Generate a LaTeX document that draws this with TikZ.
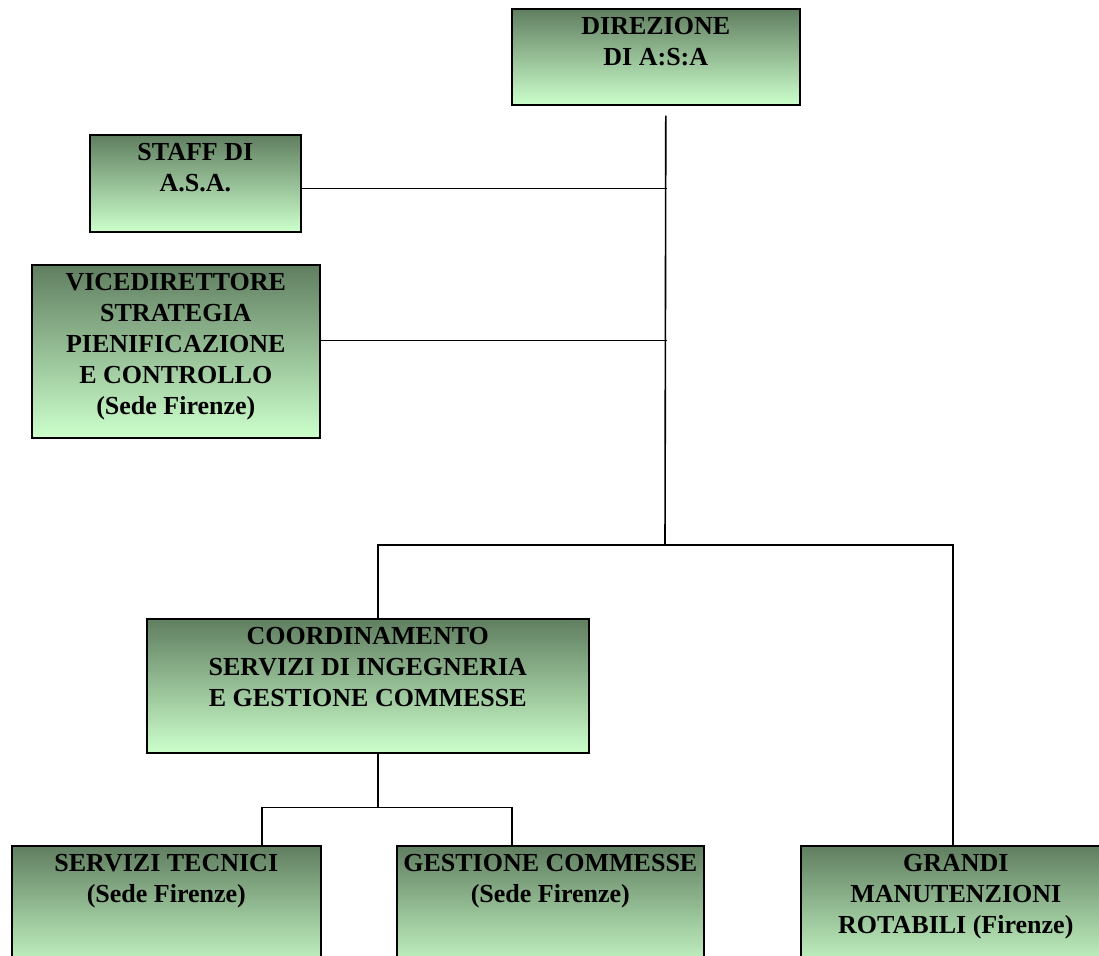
\documentclass[tikz,border=0pt]{standalone}
\usepackage{fontspec}
\setmainfont{Liberation Serif}
\definecolor{boxtop}{RGB}{96,126,96}
\definecolor{boxbottom}{RGB}{204,255,204}
\tikzset{
  orgbox/.style={draw=black, line width=1.6pt, top color=boxtop, bottom color=boxbottom,
    anchor=north west, inner sep=0pt},
  orgtext/.style={anchor=north, align=center, inner sep=0pt,
    font=\bfseries\fontsize{26}{31}\selectfont},
  orgline/.style={line width=1.6pt}
}
\begin{document}
\begin{tikzpicture}[x=1pt, y=-1pt]
            \useasboundingbox (0,0) rectangle (1099,955);
            % boxes (name/x/y/width/height/text)
            \foreach \name/\x/\y/\w/\h/\txt in {
            dir/511/8/288/96/{DIREZIONE\\DI A:S:A},
            staff/89/134/211/97/{STAFF DI\\A.S.A.},
            vice/31/264/288/173/{VICEDIRETTORE\\STRATEGIA\\PIENIFICAZIONE\\E CONTROLLO\\(Sede Firenze)},
            coord/146/618/442/134/{COORDINAMENTO\\SERVIZI DI INGEGNERIA\\E GESTIONE COMMESSE},
            tecnici/11/845/309/130/{SERVIZI TECNICI\\(Sede Firenze)},
            commesse/396/845/307/130/{GESTIONE COMMESSE\\(Sede Firenze)},
            grandi/800/845/310/130/{GRANDI\\MANUTENZIONI\\ROTABILI (Firenze)}}
            {
            \node[orgbox, minimum width=\w pt, minimum height=\h pt] (\name) at (\x,\y) {};
            \node[orgtext] (\name-txt) at ([yshift=-9pt]\name.north) {\txt};
            }
            % main line
            \coordinate (fork) at (665,545);
            \draw[orgline] ([xshift=10pt, yshift=-10pt]dir.south) -- (fork);
            \draw[orgline] ([yshift=-5pt]staff.east) -- ++(365,0);
            \draw[orgline] ([yshift=11pt]vice.east) -- ++(346,0);
            \draw[orgline] ([xshift=10pt]coord.north) |- (fork) -| ([xshift=-3pt]grandi.north);
            % sub branches
            \draw[orgline] ([xshift=10pt]coord.south) -- ++(0,54) coordinate (subfork);
            \draw[orgline] ([xshift=95.5pt]tecnici.north) |- (subfork) -| ([xshift=-38.5pt]commesse.north);
        \end{tikzpicture}
\end{document}
